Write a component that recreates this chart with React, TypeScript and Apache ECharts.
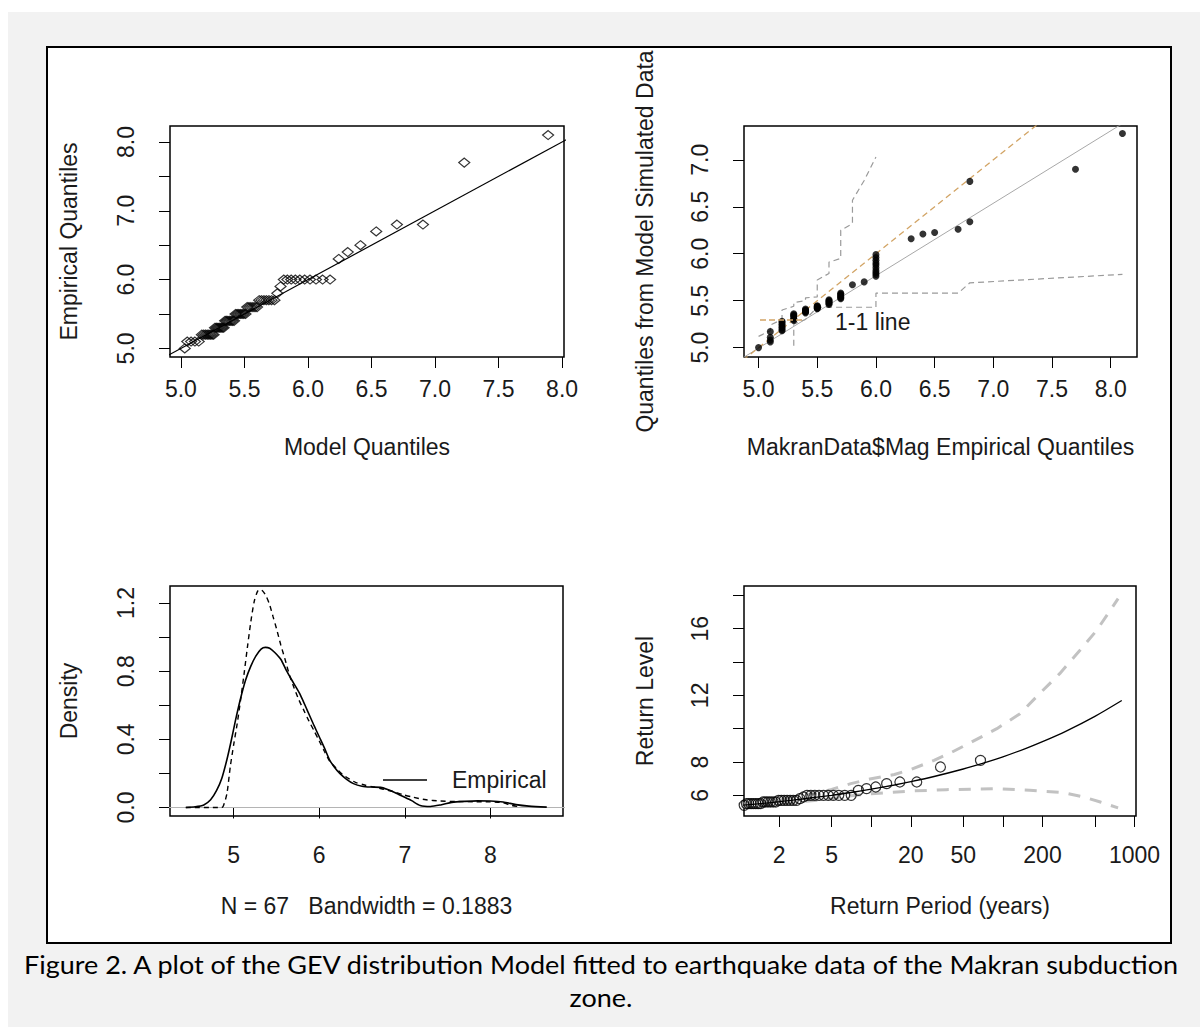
import React, { useEffect, useRef } from "react";
import * as echarts from "echarts";

// ---------------- DATA ----------------
// sorted empirical magnitudes (N = 67)
const magnitudes = [
  5.0,
  5.1, 5.1, 5.1, 5.1,
  5.2, 5.2, 5.2, 5.2, 5.2, 5.2, 5.2, 5.2,
  5.3, 5.3, 5.3, 5.3, 5.3, 5.3, 5.3,
  5.4, 5.4, 5.4, 5.4, 5.4, 5.4, 5.4,
  5.5, 5.5, 5.5, 5.5, 5.5, 5.5, 5.5,
  5.6, 5.6, 5.6, 5.6, 5.6, 5.6,
  5.7, 5.7, 5.7, 5.7, 5.7, 5.7, 5.7,
  5.8, 5.9,
  6.0, 6.0, 6.0, 6.0, 6.0, 6.0, 6.0, 6.0, 6.0, 6.0,
  6.3, 6.4, 6.5, 6.7, 6.8, 6.8, 7.7, 8.1,
];
// model quantiles (x of panel 1)
const modelQuantiles = [
  5.03, 5.05, 5.08, 5.11, 5.14,
  5.165, 5.18, 5.194, 5.207, 5.22, 5.232, 5.245, 5.257,
  5.268, 5.28, 5.291, 5.302, 5.314, 5.325, 5.336,
  5.348, 5.359, 5.37, 5.382, 5.394, 5.406, 5.418,
  5.43, 5.442, 5.455, 5.468, 5.481, 5.494, 5.508,
  5.522, 5.536, 5.551, 5.567, 5.583, 5.599,
  5.616, 5.634, 5.653, 5.672, 5.692, 5.713, 5.736,
  5.759, 5.784,
  5.81, 5.838, 5.868, 5.901, 5.936, 5.974, 6.016, 6.063, 6.115, 6.174,
  6.242, 6.313, 6.413, 6.537, 6.7, 6.905, 7.23, 7.89,
];
// quantiles from model simulated data (y of panel 2)
const simQuantiles = [
  5.0,
  5.06, 5.08, 5.11, 5.17,
  5.18, 5.19, 5.21, 5.22, 5.24, 5.25, 5.27, 5.28,
  5.29, 5.3, 5.31, 5.33, 5.34, 5.35, 5.36,
  5.37, 5.38, 5.385, 5.39, 5.395, 5.4, 5.41,
  5.415, 5.42, 5.425, 5.43, 5.435, 5.44, 5.445,
  5.46, 5.47, 5.48, 5.49, 5.5, 5.51,
  5.52, 5.53, 5.54, 5.55, 5.56, 5.57, 5.58,
  5.67, 5.7,
  5.76, 5.78, 5.8, 5.82, 5.85, 5.88, 5.9, 5.93, 5.96, 5.99,
  6.16, 6.21, 6.225, 6.26, 6.34, 6.77, 6.9, 7.28,
];
// return periods of the empirical points (panel 4)
const returnPeriods = [
  0.237, 0.284, 0.32, 0.353, 0.383, 0.412, 0.44, 0.467, 0.494, 0.522,
  0.549, 0.577, 0.604, 0.633, 0.662, 0.691, 0.721, 0.752, 0.784, 0.817,
  0.851, 0.886, 0.923, 0.96, 0.999, 1.04, 1.083, 1.127, 1.173, 1.222,
  1.273, 1.327, 1.383, 1.443, 1.506, 1.572, 1.643, 1.718, 1.799, 1.885,
  1.977, 2.076, 2.182, 2.297, 2.422, 2.558, 2.707, 2.871, 3.052, 3.252,
  3.476, 3.727, 4.013, 4.338, 4.712, 5.152, 5.669, 6.285, 7.042, 7.987,
  9.208, 10.82, 13.09, 16.5, 22.17, 33.56, 67.57,
];

// panel 1 reference line
const qqLine1 = [[4.8, 4.8], [8.3, 8.3]];
// panel 2 lines
const regressionLine = [[4.8, 4.84], [8.3, 7.54]];
const oneToOneLine = [[4.8, 4.8], [8.3, 8.3]];
const upperBand = [
  [5.0, 5.12], [5.1, 5.18], [5.1, 5.24], [5.2, 5.3], [5.2, 5.4], [5.3, 5.44], [5.3, 5.48],
  [5.4, 5.5], [5.4, 5.53], [5.5, 5.54], [5.5, 5.72], [5.6, 5.79], [5.6, 5.91], [5.7, 5.95],
  [5.7, 6.25], [5.8, 6.32], [5.8, 6.57], [5.9, 6.78], [6.0, 7.03],
];
const lowerBand = [
  [5.3, 5.02], [5.3, 5.25], [5.4, 5.3], [5.5, 5.43], [6.0, 5.43], [6.0, 5.58],
  [6.7, 5.58], [6.8, 5.69], [8.1, 5.78],
];
// panel 3 densities
const empiricalDensity = [
  [4.44, 0.0], [4.55, 0.004], [4.65, 0.015], [4.73, 0.045], [4.8, 0.1], [4.86, 0.17],
  [4.92, 0.28], [4.97, 0.39], [5.02, 0.51], [5.08, 0.64], [5.14, 0.75], [5.2, 0.83],
  [5.26, 0.89], [5.32, 0.93], [5.37, 0.94], [5.42, 0.935], [5.48, 0.91], [5.55, 0.87],
  [5.62, 0.8], [5.7, 0.73], [5.78, 0.66], [5.86, 0.57], [5.94, 0.48], [6.0, 0.415],
  [6.06, 0.35], [6.12, 0.28], [6.18, 0.235], [6.24, 0.2], [6.32, 0.165], [6.4, 0.14],
  [6.5, 0.125], [6.6, 0.12], [6.72, 0.118], [6.8, 0.105], [6.9, 0.084], [7.0, 0.06],
  [7.08, 0.04], [7.18, 0.012], [7.3, 0.006], [7.42, 0.015], [7.55, 0.03], [7.7, 0.036],
  [7.85, 0.039], [8.0, 0.038], [8.15, 0.032], [8.3, 0.017], [8.45, 0.008], [8.66, 0.002],
];
const modelDensity = [
  [4.44, 0.0], [4.86, 0.0], [4.88, 0.01], [4.92, 0.08], [4.96, 0.24], [5.0, 0.37],
  [5.04, 0.49], [5.08, 0.63], [5.12, 0.78], [5.16, 0.94], [5.2, 1.09], [5.24, 1.21],
  [5.28, 1.27], [5.31, 1.28], [5.34, 1.27], [5.38, 1.24], [5.42, 1.19], [5.46, 1.12],
  [5.5, 1.05], [5.55, 0.955], [5.6, 0.87], [5.65, 0.78], [5.7, 0.71], [5.76, 0.634],
  [5.82, 0.57], [5.88, 0.507], [5.94, 0.45], [6.0, 0.39], [6.06, 0.33], [6.12, 0.273],
  [6.2, 0.23], [6.27, 0.195], [6.35, 0.168], [6.43, 0.146], [6.53, 0.132], [6.63, 0.121],
  [6.75, 0.107], [6.86, 0.094], [6.98, 0.075], [7.1, 0.06], [7.25, 0.045], [7.41, 0.038],
  [7.6, 0.035], [7.8, 0.034], [8.0, 0.033], [8.15, 0.028], [8.25, 0.012], [8.35, 0.004],
];
const zeroLine = [[4.0, 0], [9.0, 0]];
// panel 4 return level curve and confidence limits
const returnLevel = [
  [1.0, 5.39], [1.5, 5.52], [2, 5.62], [3, 5.78], [5, 6.0], [7, 6.17], [10, 6.37], [15, 6.62],
  [20, 6.82], [30, 7.13], [50, 7.58], [70, 7.92], [100, 8.31], [150, 8.82], [200, 9.22],
  [300, 9.84], [500, 10.74], [800, 11.69],
];
const upperCI = [
  [1.0, 5.48], [2, 5.75], [3, 5.97], [5, 6.35], [7, 6.7], [10, 7.0], [15, 7.25], [20, 7.55],
  [30, 8.1], [40, 8.55], [56, 9.14], [90, 10.0], [135, 10.9], [190, 12.1], [270, 13.3],
  [385, 14.7], [516, 15.9], [750, 17.8],
];
const lowerCI = [
  [1.0, 5.3], [2, 5.5], [3, 5.62], [5, 5.8], [6.5, 5.94], [10, 6.1], [20, 6.26], [37, 6.34],
  [90, 6.4], [160, 6.3], [290, 6.16], [410, 5.9], [550, 5.6], [750, 5.25],
];

// tick values / labels
const qTicks = [5, 5.5, 6, 6.5, 7, 7.5, 8];
const qLabels1Y = [5, 6, 7, 8];
const q2YTicks = [5, 5.5, 6, 6.5, 7];
const densXTicks = [5, 6, 7, 8];
const densYTicks = [0, 0.2, 0.4, 0.6, 0.8, 1.0, 1.2];
const densYLabels = [0, 0.4, 0.8, 1.2];
const rpTicks = [2, 5, 10, 20, 50, 100, 200, 500, 1000];
const rpLabels = [2, 5, 20, 50, 200, 1000];
const rlTicks = [6, 8, 10, 12, 14, 16, 18];
const rlLabels = [6, 8, 12, 16];

// ---------------- STYLE ----------------
const FONT = "'Liberation Sans', Arial, sans-serif";
const TXT = "#1a1a1a";
const FS = 23;

function axis(o: any) {
  return {
    type: o.type || "value",
    gridIndex: o.grid,
    min: o.min,
    max: o.max,
    name: o.name,
    nameLocation: "middle",
    nameGap: o.nameGap,
    nameTextStyle: { fontSize: FS, fontFamily: FONT, color: TXT },
    axisLine: { show: false },
    axisTick: {
      show: true,
      inside: false,
      length: 11,
      customValues: o.ticks,
      lineStyle: { color: "#000", width: 1 },
    },
    axisLabel: {
      show: true,
      customValues: o.labels,
      formatter: o.fmt,
      margin: o.margin,
      rotate: o.isY ? 90 : 0,
      fontSize: FS,
      fontFamily: FONT,
      color: TXT,
    },
    splitLine: { show: false },
  };
}

function line(x: number, y: number, data: any, color: string, width: number, type: any, z = 3) {
  return {
    type: "line",
    xAxisIndex: x,
    yAxisIndex: y,
    data,
    symbol: "none",
    showSymbol: false,
    clip: true,
    silent: true,
    z,
    lineStyle: { color, width, type },
  };
}

const f1 = (v: number) => v.toFixed(1);
const f0 = (v: number) => String(Math.round(v));

const gridBase = { show: true, borderColor: "#000", borderWidth: 1.5, backgroundColor: "transparent", containLabel: false };
const CAPTION_FONT = "Lato, sans-serif";

export default function App() {
  const ref = useRef<HTMLDivElement>(null);
  useEffect(() => {
    const chart = echarts.init(ref.current as HTMLDivElement, null, { renderer: "svg", width: 1200, height: 1027 });
    const option: any = {
      animation: false,
      backgroundColor: "#ffffff",
      grid: [
        { ...gridBase, left: 170, top: 126, width: 394, height: 231 },
        { ...gridBase, left: 744, top: 126, width: 393, height: 231 },
        { ...gridBase, left: 170, top: 586, width: 393, height: 230 },
        { ...gridBase, left: 744, top: 586, width: 392, height: 230 },
      ],
      xAxis: [
        axis({ grid: 0, min: 4.914, max: 8.015, ticks: qTicks, labels: qTicks, fmt: f1, name: "Model Quantiles", nameGap: 78, margin: 20 }),
        axis({ grid: 1, min: 4.876, max: 8.224, ticks: qTicks, labels: qTicks, fmt: f1, name: "MakranData$Mag Empirical Quantiles", nameGap: 78, margin: 20 }),
        axis({ grid: 2, min: 4.255, max: 8.85, ticks: densXTicks, labels: densXTicks, fmt: f0, name: "N = 67   Bandwidth = 0.1883", nameGap: 78, margin: 27 }),
        axis({ grid: 3, type: "log", min: 1.08, max: 1026, ticks: rpTicks, labels: rpLabels, fmt: f0, name: "Return Period (years)", nameGap: 78, margin: 27 }),
      ],
      yAxis: [
        axis({ grid: 0, min: 4.875, max: 8.232, ticks: qTicks, labels: qLabels1Y, fmt: f1, name: "Empirical Quantiles", nameGap: 90, margin: 33, isY: true }),
        axis({ grid: 1, min: 4.9, max: 7.36, ticks: q2YTicks, labels: q2YTicks, fmt: f1, name: "Quantiles from Model Simulated Data", nameGap: 88, margin: 33, isY: true }),
        axis({ grid: 2, min: -0.05, max: 1.3, ticks: densYTicks, labels: densYLabels, fmt: f1, name: "Density", nameGap: 90, margin: 33, isY: true }),
        axis({ grid: 3, min: 4.76, max: 18.56, ticks: rlTicks, labels: rlLabels, fmt: f0, name: "Return Level", nameGap: 88, margin: 33, isY: true }),
      ],
      series: [
        // panel 1
        line(0, 0, qqLine1, "#000", 1.2, "solid"),
        {
          type: "scatter",
          xAxisIndex: 0,
          yAxisIndex: 0,
          data: modelQuantiles.map((m, i) => [m, magnitudes[i]]),
          symbol: "diamond",
          symbolSize: [11, 9],
          clip: true,
          silent: true,
          itemStyle: { color: "rgba(255,255,255,0)", borderColor: "#000", borderWidth: 1.2 },
          z: 4,
        },
        // panel 2
        line(1, 1, regressionLine, "#a8a8a8", 1, "solid"),
        line(1, 1, oneToOneLine, "#d2a465", 1.3, [6, 4]),
        line(1, 1, upperBand, "#9a9a9a", 1.2, [6, 4]),
        line(1, 1, lowerBand, "#9a9a9a", 1.2, [6, 4]),
        {
          type: "scatter",
          xAxisIndex: 1,
          yAxisIndex: 1,
          data: magnitudes.map((m, i) => [m, simQuantiles[i]]),
          symbol: "circle",
          symbolSize: 7,
          clip: true,
          silent: true,
          itemStyle: { color: "#000" },
          z: 4,
        },
        // panel 3
        line(2, 2, zeroLine, "#b4b4b4", 1.2, "solid", 2),
        { ...line(2, 2, empiricalDensity, "#000", 1.6, "solid"), smooth: 0.25 },
        { ...line(2, 2, modelDensity, "#000", 1.4, [5, 4]), smooth: 0.25 },
        // panel 4
        line(3, 3, upperCI, "#c2c2c2", 3, [12, 10]),
        line(3, 3, lowerCI, "#c2c2c2", 3, [12, 10]),
        { ...line(3, 3, returnLevel, "#000", 1.3, "solid"), smooth: 0.3 },
        {
          type: "scatter",
          xAxisIndex: 3,
          yAxisIndex: 3,
          data: returnPeriods.map((t, i) => [t, magnitudes[i]]),
          symbol: "circle",
          symbolSize: 10,
          clip: true,
          silent: true,
          itemStyle: { color: "rgba(255,255,255,0)", borderColor: "#000", borderWidth: 1.2 },
          z: 4,
        },
      ],
      graphic: [
        { type: "rect", z: -20, silent: true, shape: { x: 8, y: 12, width: 1192, height: 1015 }, style: { fill: "#f2f2f2" } },
        { type: "rect", z: -19, silent: true, shape: { x: 47, y: 47, width: 1124, height: 896 }, style: { fill: "#ffffff", stroke: "#000", lineWidth: 2 } },
        // panel 2 legend
        { type: "line", z: 10, silent: true, shape: { x1: 760, y1: 320, x2: 803, y2: 320 }, style: { stroke: "#d2a465", lineWidth: 1.5, lineDash: [6, 3] } },
        { type: "text", z: 10, silent: true, x: 835, y: 322, style: { text: "1-1 line", fill: TXT, fontSize: FS, fontFamily: FONT, textAlign: "left", textVerticalAlign: "middle", verticalAlign: "middle" } },
        // panel 3 legend
        { type: "line", z: 10, silent: true, shape: { x1: 383, y1: 780, x2: 427, y2: 780 }, style: { stroke: "#000", lineWidth: 1.5 } },
        { type: "text", z: 10, silent: true, x: 452, y: 780, style: { text: "Empirical", fill: TXT, fontSize: FS, fontFamily: FONT, textAlign: "left", textVerticalAlign: "middle", verticalAlign: "middle" } },
        // caption
        { type: "text", z: 10, silent: true, x: 601, y: 964, scaleX: 1.08, style: { text: "Figure 2. A plot of the GEV distribution Model fitted to earthquake data of the Makran subduction", fill: "#000", fontSize: 25, fontFamily: CAPTION_FONT, textAlign: "center", textVerticalAlign: "middle", verticalAlign: "middle" } },
        { type: "text", z: 10, silent: true, x: 601, y: 997, scaleX: 1.08, style: { text: "zone.", fill: "#000", fontSize: 25, fontFamily: CAPTION_FONT, textAlign: "center", textVerticalAlign: "middle", verticalAlign: "middle" } },
      ],
    };
    chart.setOption(option);
    return () => chart.dispose();
  }, []);
  return <div ref={ref} style={{ position: "absolute", left: 0, top: 0, width: 1200, height: 1027 }} />;
}
